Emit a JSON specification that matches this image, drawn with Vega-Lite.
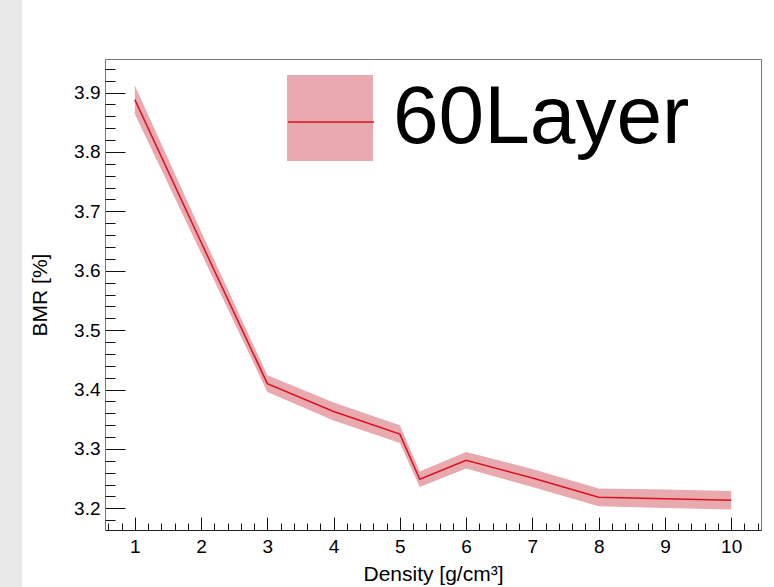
{
  "$schema": "https://vega.github.io/schema/vega-lite/v6.json",
  "background": "white",
  "padding": 0,
  "spacing": 83,
  "bounds": "flush",
  "align": "each",
  "center": true,
  "config": {
    "font": "Liberation Sans",
    "axis": {"labelColor": "#000", "titleColor": "#000", "titleFontWeight": "normal", "grid": false, "tickColor": "#111", "domainWidth": 1, "tickWidth": 1}
  },
  "hconcat": [
    {
      "width": 22,
      "height": 589,
      "data": {"values": [{"k": 0}]},
      "mark": {"type": "point", "opacity": 0},
      "encoding": {},
      "view": {"fill": "#e8e8e8", "stroke": null}
    },
    {
      "width": 656,
      "height": 471,
      "view": {"stroke": "#777", "fill": "white"},
      "data": {"values": [
        {"d": 1, "bmr": 3.888, "hi": 3.912, "lo": 3.864, "band": "60Layer", "series": "60Layer"},
        {"d": 2, "bmr": 3.648, "hi": 3.666, "lo": 3.630, "band": "60Layer", "series": "60Layer"},
        {"d": 3, "bmr": 3.410, "hi": 3.424, "lo": 3.396, "band": "60Layer", "series": "60Layer"},
        {"d": 4, "bmr": 3.363, "hi": 3.378, "lo": 3.348, "band": "60Layer", "series": "60Layer"},
        {"d": 5, "bmr": 3.325, "hi": 3.340, "lo": 3.310, "band": "60Layer", "series": "60Layer"},
        {"d": 5.3, "bmr": 3.249, "hi": 3.262, "lo": 3.236, "band": "60Layer", "series": "60Layer"},
        {"d": 6, "bmr": 3.281, "hi": 3.295, "lo": 3.267, "band": "60Layer", "series": "60Layer"},
        {"d": 7, "bmr": 3.251, "hi": 3.266, "lo": 3.236, "band": "60Layer", "series": "60Layer"},
        {"d": 8, "bmr": 3.2185, "hi": 3.2335, "lo": 3.2035, "band": "60Layer", "series": "60Layer"},
        {"d": 9, "bmr": 3.216, "hi": 3.2315, "lo": 3.2005, "band": "60Layer", "series": "60Layer"},
        {"d": 10, "bmr": 3.2135, "hi": 3.229, "lo": 3.198, "band": "60Layer", "series": "60Layer"}
      ]},
      "resolve": {"axis": {"x": "independent", "y": "independent"}},
      "layer": [
        {
          "mark": {"type": "area", "opacity": 1},
          "encoding": {
            "x": {"field": "d", "type": "quantitative",
              "scale": {"domain": [0.55, 10.45], "nice": false, "zero": false},
              "axis": {"orient": "bottom", "values": [1, 2, 3, 4, 5, 6, 7, 8, 9, 10], "format": "d", "tickSize": -13, "labelPadding": 20, "labelFontSize": 19, "domainColor": "#222", "title": "Density [g/cm³]", "titleFontSize": 21, "titlePadding": 7}},
            "y": {"field": "hi", "type": "quantitative",
              "scale": {"domain": [3.1635, 3.9565], "nice": false, "zero": false},
              "axis": {"orient": "left", "values": [3.2, 3.3, 3.4, 3.5, 3.6, 3.7, 3.8, 3.9], "format": ".1f", "tickSize": -20, "labelPadding": 25, "labelFontSize": 19, "domainColor": "#777", "title": "BMR [%]", "titleFontSize": 21, "titlePadding": 23}},
            "y2": {"field": "lo"},
            "fill": {"field": "band", "type": "nominal", "scale": {"range": ["#e8a9af"]},
              "legend": {"orient": "none", "legendX": 287, "legendY": 75, "title": null, "padding": 0, "symbolType": "M-1,-1H1V1H-1Z", "symbolSize": 7396, "symbolStrokeWidth": 0, "symbolOpacity": 1, "labelFontSize": 82, "labelOffset": 20, "labelLimit": 1000, "labelColor": "#000"}}
          }
        },
        {
          "mark": {"type": "line", "strokeWidth": 1.5},
          "encoding": {
            "x": {"field": "d", "type": "quantitative",
              "scale": {"domain": [0.55, 10.45], "nice": false, "zero": false},
              "axis": {"orient": "bottom", "values": [0.6, 0.8, 1.2, 1.4, 1.6, 1.8, 2.2, 2.4, 2.6, 2.8, 3.2, 3.4, 3.6, 3.8, 4.2, 4.4, 4.6, 4.8, 5.2, 5.4, 5.6, 5.8, 6.2, 6.4, 6.6, 6.8, 7.2, 7.4, 7.6, 7.8, 8.2, 8.4, 8.6, 8.8, 9.2, 9.4, 9.6, 9.8, 10.2, 10.4], "tickSize": -7, "labels": false, "domain": false, "title": null}},
            "y": {"field": "bmr", "type": "quantitative",
              "scale": {"domain": [3.1635, 3.9565], "nice": false, "zero": false},
              "axis": {"orient": "left", "values": [3.18, 3.22, 3.24, 3.26, 3.28, 3.32, 3.34, 3.36, 3.38, 3.42, 3.44, 3.46, 3.48, 3.52, 3.54, 3.56, 3.58, 3.62, 3.64, 3.66, 3.68, 3.72, 3.74, 3.76, 3.78, 3.82, 3.84, 3.86, 3.88, 3.92, 3.94], "tickSize": -10, "labels": false, "domain": false, "title": null}},
            "stroke": {"field": "series", "type": "nominal", "scale": {"range": ["#dd1020"]},
              "legend": {"orient": "none", "legendX": 287, "legendY": 78, "title": null, "padding": 0, "symbolType": "M-1,0H1", "symbolSize": 7396, "symbolStrokeWidth": 1.5, "labelFontSize": 10, "labelOffset": 0, "labelExpr": "''"}}
          }
        }
      ]
    }
  ]
}
